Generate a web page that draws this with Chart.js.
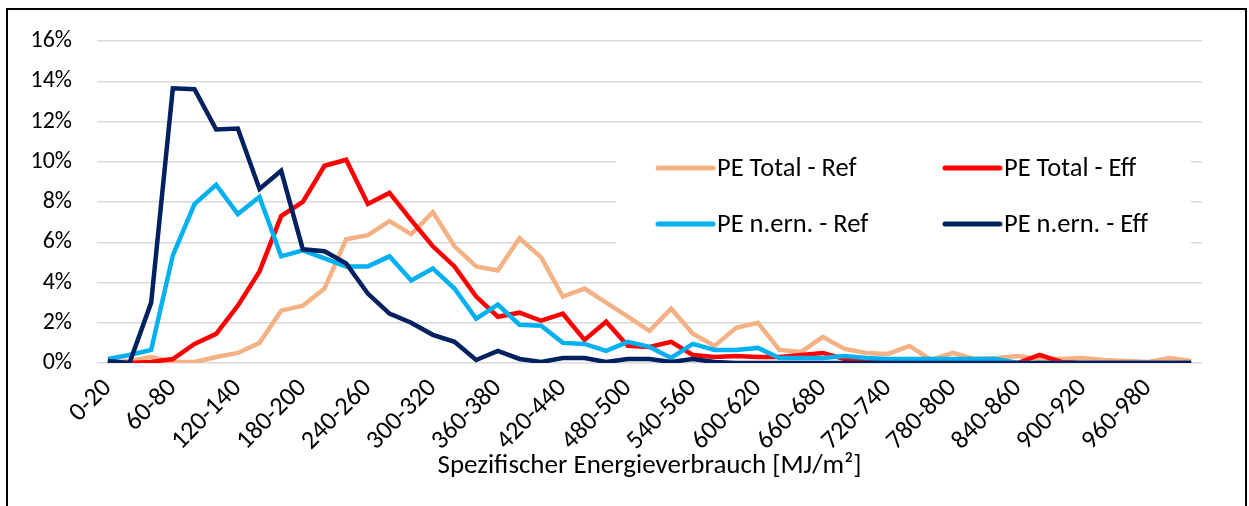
<!DOCTYPE html>
<html>
<head>
<meta charset="utf-8">
<script src="https://cdn.jsdelivr.net/npm/chart.js@4.4.1/dist/chart.umd.min.js"></script>
<style>
  html, body { margin: 0; padding: 0; background: #fff; }
  #wrap { position: relative; width: 1249px; height: 506px; overflow: hidden; }
  #frame { position: absolute; left: 6px; top: 8px; width: 1237px; height: 600px; border: 2px solid #000; }
  canvas { position: absolute; left: 0; top: 0; }
</style>
</head>
<body>
<div id="wrap">
  <div id="frame"></div>
  <canvas id="energyChart" width="1249" height="506"></canvas>
</div>
<script>
// Klassen des spezifischen Energieverbrauchs [MJ/m²]
const klassen = [
  "0-20", "20-40", "40-60", "60-80", "80-100", "100-120", "120-140", "140-160", "160-180", "180-200",
  "200-220", "220-240", "240-260", "260-280", "280-300", "300-320", "320-340", "340-360", "360-380", "380-400",
  "400-420", "420-440", "440-460", "460-480", "480-500", "500-520", "520-540", "540-560", "560-580", "580-600",
  "600-620", "620-640", "640-660", "660-680", "680-700", "700-720", "720-740", "740-760", "760-780", "780-800",
  "800-820", "820-840", "840-860", "860-880", "880-900", "900-920", "920-940", "940-960", "960-980", "980-1000",
  "1000-1020"
];

// Anteile in %
const peTotalRef = [
  0.0, 0.1, 0.3, 0.05, 0.05, 0.3, 0.5, 1.0, 2.6, 2.85,
  3.7, 6.15, 6.35, 7.05, 6.4, 7.5, 5.8, 4.8, 4.6, 6.2,
  5.25, 3.3, 3.7, 3.0, 2.3, 1.6, 2.7, 1.45, 0.85, 1.75,
  2.0, 0.65, 0.55, 1.3, 0.7, 0.5, 0.45, 0.85, 0.15, 0.5,
  0.2, 0.25, 0.35, 0.2, 0.2, 0.25, 0.15, 0.1, 0.05, 0.25,
  0.1
];
const peTotalEff = [
  0.0, 0.0, 0.05, 0.2, 0.95, 1.45, 2.85, 4.55, 7.3, 8.0,
  9.8, 10.1, 7.9, 8.45, 7.1, 5.8, 4.8, 3.3, 2.3, 2.5,
  2.1, 2.45, 1.15, 2.05, 0.85, 0.8, 1.05, 0.4, 0.3, 0.35,
  0.3, 0.3, 0.4, 0.5, 0.2, 0.15, 0.05, 0.2, 0.05, 0.0,
  0.0, 0.0, 0.0, 0.4, 0.05, 0.0, 0.0, 0.0, 0.0, 0.0,
  0.0
];
const peNernRef = [
  0.2, 0.4, 0.65, 5.35, 7.9, 8.85, 7.4, 8.25, 5.3, 5.6,
  5.2, 4.8, 4.8, 5.3, 4.1, 4.7, 3.7, 2.2, 2.9, 1.9,
  1.85, 1.0, 0.95, 0.6, 1.05, 0.8, 0.25, 0.95, 0.65, 0.65,
  0.75, 0.25, 0.25, 0.25, 0.35, 0.25, 0.2, 0.2, 0.2, 0.2,
  0.2, 0.2, 0.0, 0.0, 0.0, 0.0, 0.0, 0.0, 0.0, 0.0,
  0.0
];
const peNernEff = [
  0.1, 0.0, 3.0, 13.65, 13.6, 11.6, 11.65, 8.65, 9.55, 5.65,
  5.55, 4.95, 3.45, 2.45, 2.0, 1.4, 1.05, 0.15, 0.6, 0.2,
  0.05, 0.25, 0.25, 0.05, 0.2, 0.2, 0.05, 0.2, 0.05, 0.0,
  0.0, 0.0, 0.0, 0.0, 0.0, 0.0, 0.0, 0.0, 0.0, 0.0,
  0.0, 0.0, 0.0, 0.0, 0.0, 0.0, 0.0, 0.0, 0.0, 0.0,
  0.0
];

const FAMILY = "Calibri, Carlito, Lato, sans-serif";
const TEXT = "#000000";

// Legende als Kasten im Diagramm (2 Spalten x 2 Zeilen)
const kastenLegende = {
  id: "kastenLegende",
  beforeDatasetsDraw(chart, args, opts) {
    const ctx = chart.ctx;
    ctx.save();
    ctx.fillStyle = "#ffffff";
    ctx.fillRect(opts.left, opts.top, opts.width, opts.height);
    ctx.font = opts.fontSize + "px " + FAMILY;
    ctx.textBaseline = "middle";
    ctx.textAlign = "left";
    chart.data.datasets.forEach((ds, i) => {
      const x = opts.cols[i % 2];
      const y = opts.rows[Math.floor(i / 2)];
      ctx.strokeStyle = ds.borderColor;
      ctx.lineWidth = 5;
      ctx.lineCap = "round";
      ctx.beginPath();
      ctx.moveTo(x, y);
      ctx.lineTo(x + opts.sample, y);
      ctx.stroke();
      ctx.fillStyle = TEXT;
      ctx.fillText(ds.label, x + opts.sample + 4, y + 1);
    });
    ctx.restore();
  }
};

const reihe = (label, data, color, order) => ({
  label, data, order,
  borderColor: color,
  backgroundColor: color,
  borderWidth: 4.5,
  pointRadius: 0,
  tension: 0,
  fill: false
});

const ctx = document.getElementById("energyChart").getContext("2d");
new Chart(ctx, {
  type: "line",
  data: {
    labels: klassen,
    datasets: [
      reihe("PE Total - Ref", peTotalRef, "#F4B183", 4),
      reihe("PE Total - Eff", peTotalEff, "#FF0000", 3),
      reihe("PE n.ern. - Ref", peNernRef, "#00B0F0", 2),
      reihe("PE n.ern. - Eff", peNernEff, "#002060", 1)
    ]
  },
  options: {
    responsive: false,
    animation: false,
    layout: { padding: { top: 41, right: 47, bottom: 0, left: 0 } },
    plugins: {
      legend: { display: false },
      tooltip: { enabled: false },
      kastenLegende: {
        left: 616, top: 125, width: 575, height: 137,
        cols: [658, 945], rows: [168, 224], sample: 55, fontSize: 26.5
      }
    },
    scales: {
      x: {
        offset: true,
        grid: { display: false, drawTicks: false },
        border: { display: false },
        ticks: {
          autoSkip: false,
          minRotation: 45,
          maxRotation: 45,
          padding: 10,
          color: TEXT,
          font: { family: FAMILY, size: 26 },
          callback(value, index) {
            return index % 3 === 0 ? this.getLabelForValue(value) : "";
          }
        },
        title: {
          display: true,
          text: "Spezifischer Energieverbrauch [MJ/m²]",
          color: TEXT,
          font: { family: FAMILY, size: 27 },
          padding: { top: 0, bottom: 24 }
        },
        afterFit(scale) { scale.height = 143; }
      },
      y: {
        min: 0,
        max: 16,
        ticks: {
          stepSize: 2,
          padding: 25,
          color: TEXT,
          font: { family: FAMILY, size: 24 },
          callback: v => v + "%"
        },
        grid: { color: "#D9D9D9", lineWidth: 1.5, drawTicks: false },
        border: { display: false },
        afterFit(scale) { scale.width = 97; }
      }
    }
  },
  plugins: [kastenLegende]
});
</script>
</body>
</html>
